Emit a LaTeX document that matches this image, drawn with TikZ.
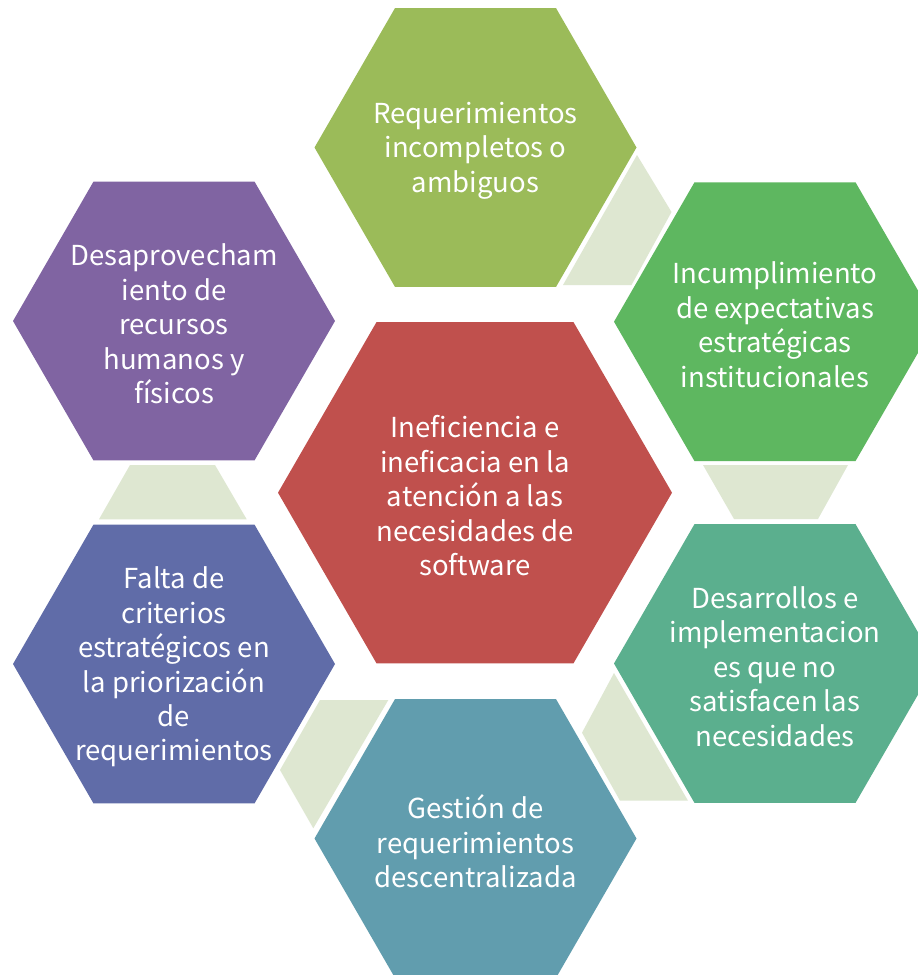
\documentclass[tikz,border=0pt]{standalone}
\usepackage{fontspec}
\setmainfont{Noto Sans CJK JP}
\definecolor{cTop}{HTML}{9BBB59}
\definecolor{cTopRight}{HTML}{5EB760}
\definecolor{cBotRight}{HTML}{5BAF8E}
\definecolor{cBot}{HTML}{619DAE}
\definecolor{cBotLeft}{HTML}{606CA8}
\definecolor{cTopLeft}{HTML}{8064A2}
\definecolor{cCenter}{HTML}{C0504D}
\definecolor{cLink}{HTML}{DEE7D1}
\newcommand{\hexcell}[6]{%
  \fill[#5] (#2,#3) +(0:#4) -- +(60:#4) -- +(120:#4) -- +(180:#4) -- +(240:#4) -- +(300:#4) -- cycle;
  \node[celltext] (#1) at (#2,#3) {#6};
}
\tikzset{
  celltext/.style={text=white, align=center, inner sep=0pt, yshift=-3pt, font=\fontsize{27.5}{34.4}\selectfont},
  linkshape/.style={fill=cLink}
}
\begin{document}
\begin{tikzpicture}[x=1pt,y=-1pt]
\useasboundingbox (0,0) rectangle (918,975);
\clip (0,0) rectangle (918,975);
\fill[white] (0,0) rectangle (918,975);
% connector shapes
\fill[linkshape] (637,155) -- (671.5,212) -- (631.5,285) -- (563,285) -- cycle;
\fill[linkshape] (703,465) -- (848,465) -- (818,519) -- (734,519) -- cycle;
\fill[linkshape] (614,673) -- (582,732.7) -- (620,800.7) -- (688,800.7) -- cycle;
\fill[linkshape] (320,700) -- (388.3,700) -- (313.3,828.3) -- (280,770) -- cycle;
\fill[linkshape] (130,465) -- (215,465) -- (246.7,519.3) -- (99,519.3) -- cycle;
% hexagons
\hexcell{center}{475}{492.7}{197}{cCenter}{Ineficiencia e\\ineficacia en la\\atención a las\\necesidades de\\software}
\hexcell{top}{475.5}{147.5}{161}{cTop}{Requerimientos\\incompletos o\\ambiguos}
\hexcell{topright}{775}{321.7}{161}{cTopRight}{Incumplimiento\\de expectativas\\estratégicas\\institucionales}
\hexcell{botright}{775}{663.5}{161}{cBotRight}{Desarrollos e\\implementacion\\es que no\\satisfacen las\\necesidades}
\hexcell{bot}{475.5}{838.5}{161}{cBot}{Gestión de\\requerimientos\\descentralizada}
\hexcell{botleft}{174}{664}{161}{cBotLeft}{Falta de\\criterios\\estratégicos en\\la priorización\\de\\requerimientos}
\hexcell{topleft}{174}{321}{161}{cTopLeft}{Desaprovecham\\iento de\\recursos\\humanos y\\físicos}
\end{tikzpicture}
\end{document}
